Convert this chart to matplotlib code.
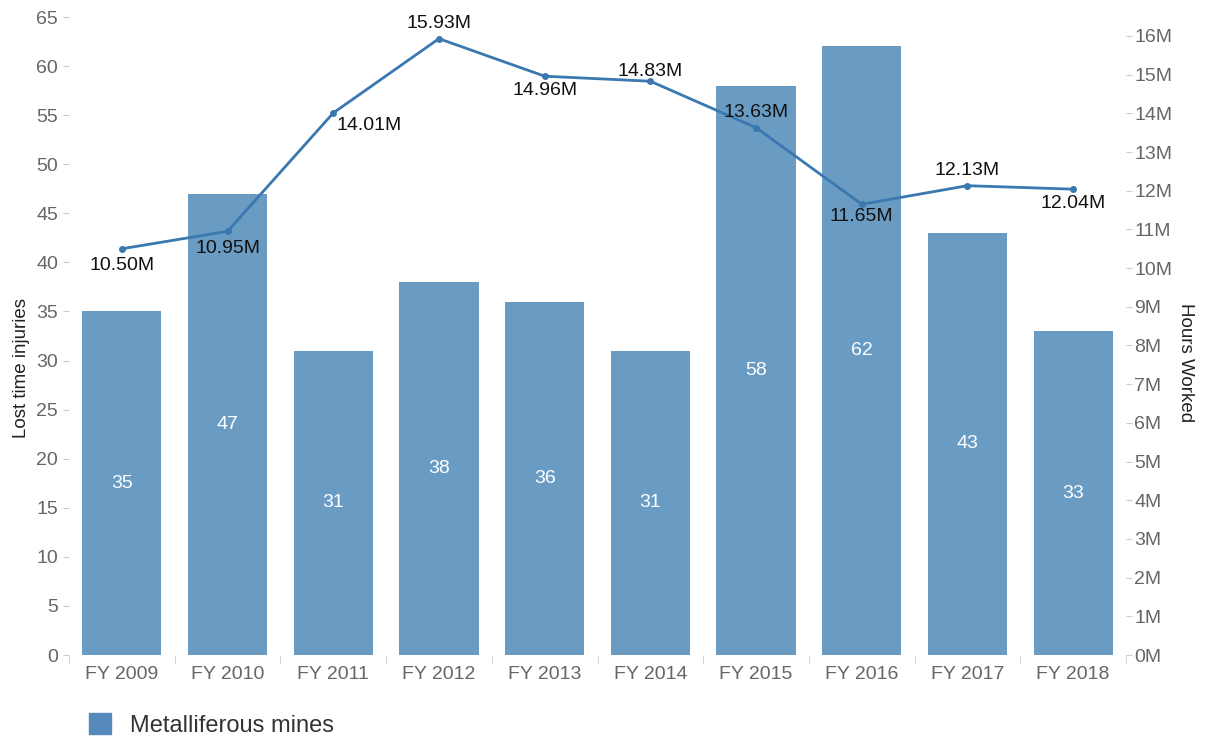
import numpy as np
import matplotlib.pyplot as plt
from matplotlib.ticker import FuncFormatter, MultipleLocator, FixedLocator

plt.rcParams['font.family'] = ['Liberation Sans', 'DejaVu Sans']

# data
years = ['FY 2009', 'FY 2010', 'FY 2011', 'FY 2012', 'FY 2013',
         'FY 2014', 'FY 2015', 'FY 2016', 'FY 2017', 'FY 2018']
injuries = [35, 47, 31, 38, 36, 31, 58, 62, 43, 33]
hours = [10.50, 10.95, 14.01, 15.93, 14.96, 14.83, 13.63, 11.65, 12.13, 12.04]  # millions
# label offsets (points) for the line labels
lab_dx = [0, 0, 26, 0, 0, 0, 0, 0, 0, 0]
lab_dy = [-12, -12, -9, 11, -10, 7, 11, -9, 11, -10]

bar_col = '#6a9bc3'
line_col = '#3a78b0'
tick_col = '#666666'
fs = 14

fig = plt.figure(figsize=(12.05, 7.4), dpi=100)
ax = fig.add_axes([69 / 1205, 85 / 740, (1126 - 69) / 1205, (655 - 17) / 740])
x = np.arange(len(years))

bars = ax.bar(x, injuries, width=0.75, color=bar_col, zorder=2)
for xi, v in zip(x, injuries):
    ax.text(xi, v / 2, str(v), ha='center', va='center', color='white', fontsize=fs)

ax.set_ylim(0, 65)
ax.set_xlim(-0.5, len(years) - 0.5)
ax.yaxis.set_major_locator(MultipleLocator(5))
ax.set_xticks(x)
ax.set_xticklabels(years)
ax.xaxis.set_minor_locator(FixedLocator(np.arange(-0.5, len(years), 1)))
ax.tick_params(axis='x', which='major', length=0, pad=8, labelsize=fs, labelcolor=tick_col)
ax.tick_params(axis='x', which='minor', length=6, color='#cccccc')
ax.tick_params(axis='y', length=4, color='#cccccc', labelsize=fs, labelcolor=tick_col, pad=4)
ax.set_ylabel('Lost time injuries', fontsize=13.5, color='#222222')
ax.yaxis.set_label_coords(-0.037, 0.45)
for s in ax.spines.values():
    s.set_visible(False)

ax2 = ax.twinx()
ax2.plot(x, hours, color=line_col, lw=2, marker='o', ms=4, zorder=3)
for xi, h, dx, dy in zip(x, hours, lab_dx, lab_dy):
    ax2.annotate(f'{h:.2f}M', (xi, h), xytext=(dx, dy), textcoords='offset points',
                 ha='center', va='center', fontsize=fs, color='#111111')
ax2.set_ylim(0, 16.49)
ax2.yaxis.set_major_locator(FixedLocator(np.arange(0, 17, 1)))
ax2.yaxis.set_major_formatter(FuncFormatter(lambda v, p: f'{int(v)}M'))
ax2.tick_params(axis='y', length=4, color='#cccccc', labelsize=fs, labelcolor=tick_col, pad=2)
ax2.set_ylabel('Hours Worked', fontsize=13.5, color='#222222', rotation=-90, va='center')
ax2.yaxis.set_label_coords(1.0567, 0.458)
for s in ax2.spines.values():
    s.set_visible(False)

leg = fig.legend([bars], ['Metalliferous mines'], loc='lower left', bbox_to_anchor=(0.056, -0.024),
                 frameon=False, fontsize=17, handlelength=0.95, handleheight=0.95, handletextpad=0.8)
leg.get_patches()[0].set_color('#5588bb')
for t in leg.get_texts():
    t.set_color('#333333')

fig.savefig('out.png', dpi=100)
